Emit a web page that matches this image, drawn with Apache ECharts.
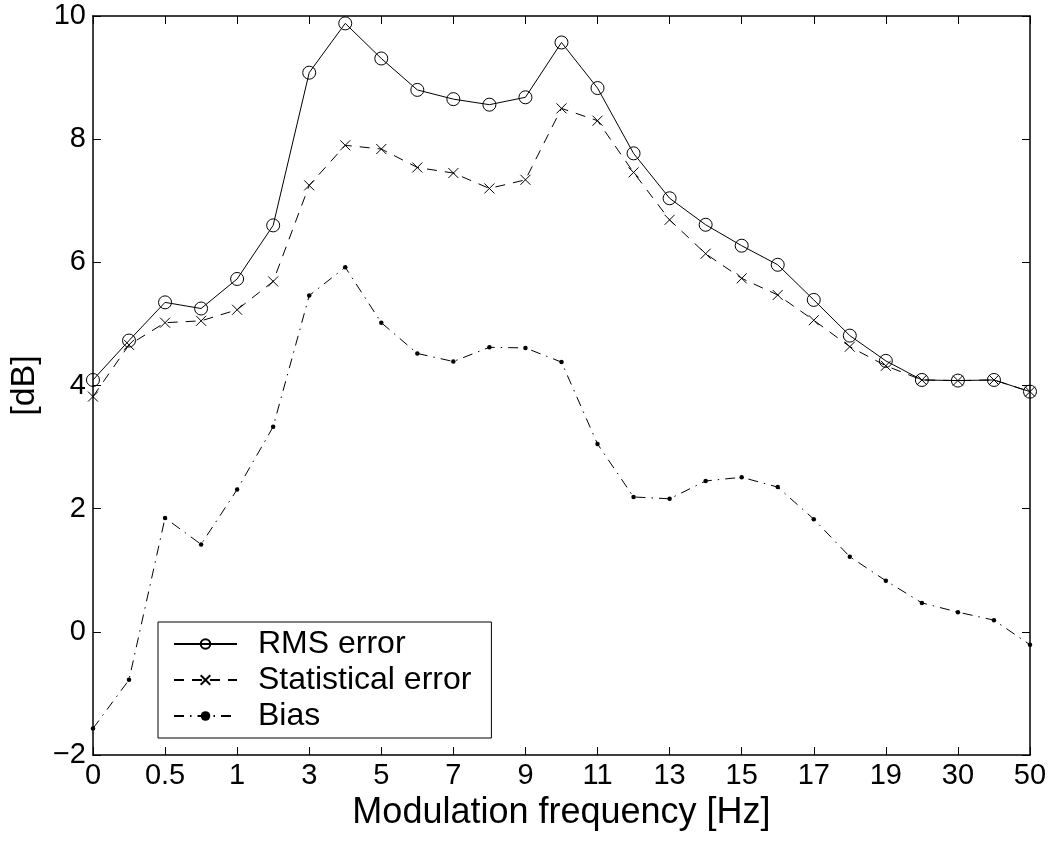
<!DOCTYPE html>
<html>
<head>
<meta charset="utf-8">
<script src="https://cdn.jsdelivr.net/npm/echarts@6/dist/echarts.min.js"></script>
<style>
html,body{margin:0;padding:0;background:#fff;}
#chart{width:1057px;height:841px;}
</style>
</head>
<body>
<div id="chart"></div>
<script>
// Category positions along the x-axis (every other one is labelled)
const categories = ['0','0.25','0.5','0.75','1','2','3','4','5','6','7','8','9','10','11','12','13','14','15','16','17','18','19','20','30','40','50'];
const tickLabels = ['0','0.5','1','3','5','7','9','11','13','15','17','19','30','50'];
const rmsError = [4.09, 4.73, 5.35, 5.25, 5.73, 6.60, 9.08, 9.88, 9.31, 8.80, 8.65, 8.56, 8.68, 9.57, 8.83, 7.77, 7.04, 6.61, 6.27, 5.96, 5.39, 4.81, 4.40, 4.09, 4.08, 4.09, 3.90];
const statError = [3.82, 4.66, 5.02, 5.05, 5.23, 5.69, 7.25, 7.90, 7.84, 7.54, 7.45, 7.20, 7.34, 8.50, 8.30, 7.46, 6.69, 6.14, 5.74, 5.47, 5.06, 4.63, 4.32, 4.09, 4.08, 4.09, 3.90];
const bias = [-1.57, -0.78, 1.85, 1.42, 2.31, 3.33, 5.46, 5.92, 5.02, 4.52, 4.39, 4.62, 4.61, 4.38, 3.05, 2.19, 2.16, 2.45, 2.51, 2.35, 1.83, 1.22, 0.83, 0.47, 0.32, 0.19, -0.21];

const FONT = "'Liberation Sans', Arial, Helvetica, sans-serif";
const chart = echarts.init(document.getElementById('chart'), null, {renderer: 'canvas'});

const xLine = {show: true, onZero: false, lineStyle: {color: '#000', width: 1.5}};
const xTick = {show: true, inside: true, length: 8, interval: 1, lineStyle: {color: '#000', width: 1}};

const option = {
  animation: false,
  backgroundColor: '#fff',
  grid: {left: 92, right: 27, top: 16, bottom: 86, containLabel: false},
  xAxis: [
    {
      type: 'category', data: categories, boundaryGap: false, position: 'bottom',
      axisLine: xLine, axisTick: xTick,
      axisLabel: {
        interval: 1, margin: 6, color: '#000', fontSize: 29, fontFamily: FONT,
        formatter: function (v, i) { return tickLabels.indexOf(v) >= 0 ? v : ''; }
      },
      splitLine: {show: false},
      name: 'Modulation frequency [Hz]', nameLocation: 'middle', nameGap: 33,
      nameTextStyle: {color: '#000', fontSize: 36, fontFamily: FONT}
    },
    {
      type: 'category', data: categories, boundaryGap: false, position: 'top',
      axisLine: xLine, axisTick: xTick, axisLabel: {show: false}, splitLine: {show: false}
    }
  ],
  yAxis: [
    {
      type: 'value', min: -2, max: 10, interval: 2, position: 'left',
      axisLine: {show: true, onZero: false, lineStyle: {color: '#000', width: 1.5}},
      axisTick: {show: true, inside: true, length: 8, lineStyle: {color: '#000', width: 1}},
      axisLabel: {
        margin: 7, color: '#000', fontSize: 29, fontFamily: FONT,
        formatter: function (v) { return String(v).replace('-', '\u2212'); }
      },
      splitLine: {show: false},
      name: '[dB]', nameLocation: 'middle', nameGap: 50, nameRotate: 90,
      nameTextStyle: {color: '#000', fontSize: 34, fontFamily: FONT}
    },
    {
      type: 'value', min: -2, max: 10, interval: 2, position: 'right',
      axisLine: {show: true, onZero: false, lineStyle: {color: '#000', width: 1.5}},
      axisTick: {show: true, inside: true, length: 8, lineStyle: {color: '#000', width: 1}},
      axisLabel: {show: false}, splitLine: {show: false}
    }
  ],
  legend: {
    orient: 'vertical', left: 158, top: 622,
    backgroundColor: '#fff', borderColor: '#000', borderWidth: 1,
    padding: [6, 20, 6, 15], itemGap: 4, itemWidth: 63, itemHeight: 12,
    textStyle: {color: '#000', fontSize: 32, fontFamily: FONT, padding: [0, 0, 0, 16]},
    data: ['RMS error', 'Statistical error', 'Bias']
  },
  series: [
    {
      name: 'RMS error', type: 'line', data: rmsError,
      symbol: 'circle', symbolSize: 13, showAllSymbol: true,
      lineStyle: {color: '#000', width: 1, type: 'solid'},
      itemStyle: {color: 'rgba(0,0,0,0)', borderColor: '#000', borderWidth: 1},
      emphasis: {disabled: true}, z: 3
    },
    {
      name: 'Statistical error', type: 'line', data: statError,
      symbol: 'path://M0,0L10,10M10,0L0,10', symbolSize: 10, showAllSymbol: true,
      lineStyle: {color: '#000', width: 1, type: [10, 8]},
      itemStyle: {color: '#000', borderColor: '#000', borderWidth: 1},
      emphasis: {disabled: true}, z: 3
    },
    {
      name: 'Bias', type: 'line', data: bias,
      symbol: 'circle', symbolSize: 4.5, showAllSymbol: true,
      lineStyle: {color: '#000', width: 1, type: [10, 6, 1.5, 6]},
      itemStyle: {color: '#000'},
      emphasis: {disabled: true}, z: 3
    }
  ]
};
chart.setOption(option);
</script>
</body>
</html>
